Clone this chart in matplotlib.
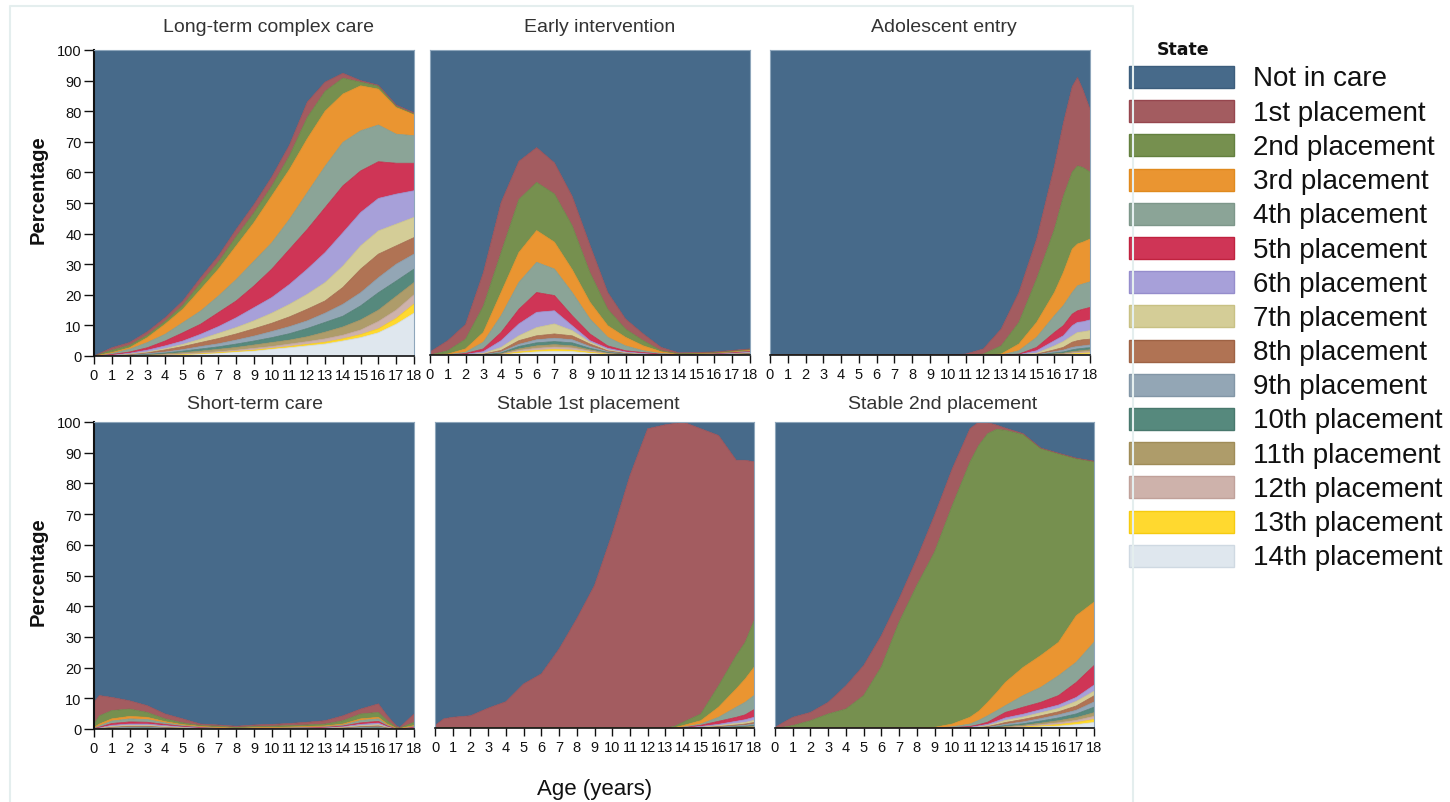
import numpy as np
import matplotlib
matplotlib.use("Agg")
import matplotlib.pyplot as plt
from matplotlib.patches import Rectangle

plt.rcParams['font.family'] = ['Liberation Sans', 'DejaVu Sans']

# ---------------------------------------------------------------- states
states = ['Not in care', '1st placement', '2nd placement', '3rd placement',
          '4th placement', '5th placement', '6th placement', '7th placement',
          '8th placement', '9th placement', '10th placement', '11th placement',
          '12th placement', '13th placement', '14th placement']
state_colors = ['#476a8a', '#a35c60', '#76904f', '#ea9531', '#8ba497',
                '#cf3556', '#a7a0d9', '#d4cd97', '#b07354', '#93a6b5',
                '#56897d', '#ae9c6a', '#ceb2ab', '#ffd92f', '#dfe7ee']
edge_colors = ['#3c5d7c', '#96464e', '#63803f', '#e08a1e', '#7d978a',
               '#c0223f', '#958dcc', '#c8c184', '#9e6244', '#8296a6',
               '#48786d', '#9f8c58', '#c0a19a', '#f5cb10', '#cfd9e2']

# Each panel: ages and, for every placement k (1st..14th), the cumulative
# percentage of children in placement k or a later one (the top edge of band k).

# ---- Long-term complex care
ages_ltc = [0, 1, 2, 3, 4, 5, 6, 7, 8, 9, 10, 11, 12, 13, 14, 15, 16, 17, 18]
ltc = [
    [0, 2.7, 4.4, 7.9, 12.5, 18, 25.6, 32.7, 41.4, 49.5, 58.5, 69, 83, 89.5, 92.4, 90, 88.5, 82, 79.5],
    [0, 1.9, 3.5, 6.8, 11.3, 16.6, 23.8, 30.7, 39, 46.8, 55.5, 65.5, 78, 86.5, 90.8, 89.5, 88.2, 81.6, 79.1],
    [0, 1.1, 2.7, 6, 10.4, 15.3, 21.8, 28.4, 36, 43.6, 52.3, 61, 71, 80, 85.6, 88.3, 87.2, 81.2, 79],
    [0, 0.9, 2.2, 4.4, 7.1, 10.9, 14.7, 19.6, 25, 31, 37, 44.7, 53.4, 62, 69.8, 73.6, 75.5, 72.5, 72],
    [0, 0.5, 1.3, 2.7, 4.9, 7.6, 10.4, 14.2, 18, 22.9, 28.4, 34.9, 41.4, 48.5, 55.6, 60.5, 63.5, 63, 63],
    [0, 0.3, 0.9, 1.9, 3.3, 4.9, 7.1, 9.6, 12.5, 15.8, 19.1, 23.4, 28.4, 33.8, 40.3, 46.9, 51.5, 52.9, 54],
    [0, 0.2, 0.65, 1.3, 2.4, 3.8, 5.5, 7.4, 9.3, 11.5, 14, 16.9, 20.2, 24, 29.4, 36, 40.9, 43.1, 45.3],
    [0, 0.15, 0.5, 1.1, 2, 3.1, 4.4, 5.7, 7.2, 8.9, 10.7, 12.8, 15.3, 18, 22.4, 28.4, 33.3, 36, 38.7],
    [0, 0.1, 0.4, 0.75, 1.3, 2.1, 3.1, 4, 5.2, 6.5, 8, 9.6, 11.5, 14, 16.9, 20.7, 25.6, 30, 33.3],
    [0, 0.05, 0.3, 0.55, 1, 1.6, 2.3, 3, 3.9, 4.9, 6, 7.3, 9, 11, 13, 16.4, 20.7, 24.5, 28.4],
    [0, 0.03, 0.2, 0.4, 0.7, 1.1, 1.6, 2.2, 2.8, 3.6, 4.4, 5.2, 6.3, 7.8, 9.5, 11.8, 15, 19.5, 24],
    [0, 0.02, 0.1, 0.25, 0.45, 0.7, 1, 1.4, 1.9, 2.5, 3.1, 3.9, 4.7, 5.6, 6.8, 8.5, 11.3, 15, 20],
    [0, 0, 0.05, 0.15, 0.3, 0.5, 0.8, 1.1, 1.5, 1.9, 2.5, 3.1, 3.8, 4.5, 5.6, 7, 8.9, 12.3, 17],
    [0, 0, 0, 0.1, 0.2, 0.4, 0.6, 0.9, 1.3, 1.6, 2.2, 2.7, 3.3, 3.9, 4.9, 6, 7.6, 10.4, 14],
]

# ---- Early intervention
ages_ei = [0, 1, 2, 3, 4, 5, 6, 7, 8, 9, 10, 11, 12, 13, 14, 15, 16, 17, 18]
ei = [
    [1, 4.7, 10, 27, 50, 63.5, 68, 63, 52, 36, 20.5, 11.8, 6.9, 2.5, 0.7, 0.8, 1.0, 1.5, 2.0],
    [0, 1.4, 5.2, 16, 33.6, 51, 56.6, 52.8, 42.4, 27, 15, 8.5, 4.7, 1.4, 0.4, 0.6, 0.8, 1.3, 1.8],
    [0, 0.3, 2, 7.4, 20.5, 33.6, 40.8, 37, 28, 17.3, 9.6, 5.8, 3, 1.1, 0.3, 0.5, 0.7, 1.1, 1.6],
    [0, 0.1, 0.9, 4.2, 12.9, 23.8, 30.4, 28.2, 20.5, 11.8, 5.8, 3, 1.4, 0.5, 0.2, 0.4, 0.6, 1, 1.4],
    [0, 0, 0.5, 2, 7.4, 15, 20.5, 19.5, 12.9, 6.9, 3, 1.4, 0.8, 0.3, 0.1, 0.3, 0.5, 0.8, 1.2],
    [0, 0, 0.2, 1.1, 4.7, 10.2, 14, 14.5, 9.6, 4.7, 2.2, 1, 0.5, 0.2, 0.05, 0.2, 0.4, 0.6, 1],
    [0, 0, 0.1, 0.5, 2.5, 6.3, 9, 10.2, 8, 4.2, 1.7, 0.8, 0.3, 0.1, 0, 0.15, 0.3, 0.5, 0.8],
    [0, 0, 0.05, 0.3, 1.5, 4.7, 6.3, 6.9, 6.3, 3.6, 1.4, 0.6, 0.2, 0.05, 0, 0.1, 0.2, 0.4, 0.6],
    [0, 0, 0, 0.2, 1, 3.5, 5, 5.5, 5, 2.8, 1.1, 0.5, 0.15, 0, 0, 0.08, 0.15, 0.3, 0.5],
    [0, 0, 0, 0.1, 0.7, 2.8, 4, 4.4, 4, 2.2, 0.9, 0.4, 0.1, 0, 0, 0.06, 0.1, 0.2, 0.4],
    [0, 0, 0, 0.05, 0.5, 2, 3, 3.4, 3, 1.7, 0.7, 0.3, 0.08, 0, 0, 0.04, 0.08, 0.15, 0.3],
    [0, 0, 0, 0, 0.3, 1.5, 2.2, 2.6, 2.3, 1.3, 0.5, 0.2, 0.05, 0, 0, 0.02, 0.05, 0.1, 0.2],
    [0, 0, 0, 0, 0.2, 1.0, 1.5, 1.8, 1.6, 0.9, 0.35, 0.12, 0.03, 0, 0, 0.01, 0.03, 0.06, 0.12],
    [0, 0, 0, 0, 0.1, 0.6, 1.0, 1.2, 1.1, 0.6, 0.2, 0.08, 0.02, 0, 0, 0, 0.01, 0.03, 0.06],
]

# ---- Adolescent entry
ages_ae = [0, 10, 11, 12, 13, 14, 15, 16, 16.5, 17, 17.3, 17.6, 18]
ae = [
    [0, 0, 0.3, 2, 8.5, 20.5, 38, 62, 76, 88, 91, 87, 80.6],
    [0, 0, 0, 0.3, 3, 10.7, 25, 41.3, 52, 60, 62, 61.5, 60],
    [0, 0, 0, 0, 0.3, 3.6, 10.7, 20.5, 27, 34.7, 36.4, 37, 38],
    [0, 0, 0, 0, 0, 1.4, 5.8, 12.9, 16.2, 20.5, 22.7, 23.3, 24],
    [0, 0, 0, 0, 0, 0.3, 2.5, 7.4, 9.6, 13.4, 14.5, 15, 15.6],
    [0, 0, 0, 0, 0, 0.1, 1.4, 4.7, 6.3, 9.6, 10.7, 10.9, 11.5],
    [0, 0, 0, 0, 0, 0, 0.6, 3, 4.4, 6.3, 7.4, 7.6, 8],
    [0, 0, 0, 0, 0, 0, 0.3, 1.7, 2.5, 4.2, 4.7, 5, 5.2],
    [0, 0, 0, 0, 0, 0, 0.1, 1.1, 1.6, 2.5, 2.8, 3, 3.3],
    [0, 0, 0, 0, 0, 0, 0.05, 0.7, 1, 1.7, 2, 2.2, 2.4],
    [0, 0, 0, 0, 0, 0, 0, 0.4, 0.6, 1.1, 1.3, 1.5, 1.7],
    [0, 0, 0, 0, 0, 0, 0, 0.2, 0.35, 0.7, 0.85, 1.0, 1.1],
    [0, 0, 0, 0, 0, 0, 0, 0.1, 0.2, 0.4, 0.5, 0.6, 0.7],
    [0, 0, 0, 0, 0, 0, 0, 0.05, 0.1, 0.2, 0.25, 0.3, 0.35],
]

# ---- Short-term care
ages_st = [0, 0.3, 1, 2, 3, 4, 5, 6, 7, 8, 9, 10, 11, 12, 13, 14, 15, 16, 16.5, 17, 17.2, 18]
st = [
    [8.7, 10.9, 10.3, 9.2, 7.6, 4.9, 3.3, 1.6, 1.3, 0.9, 1.3, 1.5, 1.8, 2.2, 2.7, 4.3, 6.5, 8.2, 4.3, 1.1, 0.5, 4.9],
    [1.6, 4.3, 6.0, 6.5, 5.4, 3.3, 2.0, 1.1, 0.9, 0.5, 0.8, 0.9, 1.1, 1.3, 1.6, 2.7, 4.9, 5.4, 2.7, 0.5, 0.3, 2.2],
    [0.5, 1.6, 3.3, 4.1, 3.8, 2.4, 1.4, 0.9, 0.5, 0.3, 0.4, 0.5, 0.65, 0.8, 1.0, 1.6, 3.3, 3.8, 1.6, 0.3, 0.2, 1.1],
    [0.3, 1.0, 2.6, 3.3, 3.1, 2.0, 1.2, 0.7, 0.4, 0.25, 0.3, 0.4, 0.5, 0.6, 0.8, 1.3, 2.8, 3.3, 1.3, 0.25, 0.15, 0.9],
    [0.2, 0.6, 1.8, 2.3, 2.2, 1.5, 0.9, 0.5, 0.3, 0.2, 0.2, 0.3, 0.35, 0.4, 0.6, 1.0, 2.0, 2.5, 1.0, 0.2, 0.1, 0.6],
    [0.1, 0.4, 1.2, 1.6, 1.6, 1.1, 0.7, 0.4, 0.2, 0.15, 0.15, 0.2, 0.25, 0.3, 0.45, 0.8, 1.5, 1.9, 0.8, 0.15, 0.08, 0.45],
    [0.05, 0.3, 0.9, 1.2, 1.2, 0.8, 0.5, 0.3, 0.15, 0.1, 0.1, 0.15, 0.2, 0.22, 0.35, 0.6, 1.1, 1.4, 0.6, 0.1, 0.05, 0.3],
    [0.03, 0.2, 0.6, 0.9, 0.9, 0.6, 0.4, 0.2, 0.1, 0.07, 0.07, 0.1, 0.15, 0.17, 0.25, 0.45, 0.8, 1.0, 0.45, 0.07, 0.03, 0.2],
    [0, 0.12, 0.4, 0.6, 0.65, 0.45, 0.3, 0.15, 0.07, 0.05, 0.05, 0.07, 0.1, 0.12, 0.18, 0.32, 0.55, 0.7, 0.3, 0.05, 0.02, 0.14],
    [0, 0.08, 0.25, 0.4, 0.45, 0.3, 0.2, 0.1, 0.05, 0.03, 0.03, 0.05, 0.07, 0.08, 0.12, 0.22, 0.38, 0.48, 0.2, 0.03, 0.01, 0.1],
    [0, 0.05, 0.15, 0.25, 0.3, 0.2, 0.13, 0.07, 0.03, 0.02, 0.02, 0.03, 0.04, 0.05, 0.08, 0.14, 0.25, 0.3, 0.12, 0.02, 0, 0.06],
    [0, 0.03, 0.1, 0.15, 0.18, 0.12, 0.08, 0.04, 0.02, 0.01, 0.01, 0.02, 0.02, 0.03, 0.05, 0.08, 0.15, 0.18, 0.07, 0.01, 0, 0.04],
    [0, 0.02, 0.05, 0.08, 0.1, 0.07, 0.05, 0.02, 0.01, 0, 0, 0.01, 0.01, 0.02, 0.03, 0.05, 0.08, 0.1, 0.04, 0, 0, 0.02],
    [0, 0.01, 0.03, 0.04, 0.05, 0.04, 0.03, 0.01, 0, 0, 0, 0, 0, 0.01, 0.01, 0.02, 0.04, 0.05, 0.02, 0, 0, 0.01],
]

# ---- Stable 1st placement
ages_s1 = [0, 0.5, 1, 2, 3, 4, 5, 6, 7, 8, 9, 10, 11, 12, 13, 13.5, 14, 15, 16, 17, 17.5, 18]
s1 = [
    [0.8, 3, 3.5, 4, 6.5, 8.6, 14.4, 17.7, 25.8, 35.7, 46.6, 63.5, 82.5, 97.8, 99.1, 99.5, 100, 97.8, 95.6, 87.5, 87.5, 87],
    [0, 0, 0, 0, 0, 0, 0, 0, 0, 0, 0, 0, 0, 0, 0, 0.5, 1.9, 4.6, 13.8, 23.7, 28, 35],
    [0, 0, 0, 0, 0, 0, 0, 0, 0, 0, 0, 0, 0, 0, 0, 0.1, 0.8, 2.4, 6.8, 12.8, 16, 19.8],
    [0, 0, 0, 0, 0, 0, 0, 0, 0, 0, 0, 0, 0, 0, 0, 0.05, 0.3, 1.3, 3.5, 6.8, 8.4, 10.6],
    [0, 0, 0, 0, 0, 0, 0, 0, 0, 0, 0, 0, 0, 0, 0, 0, 0.2, 0.9, 2.2, 3.5, 4.3, 6],
    [0, 0, 0, 0, 0, 0, 0, 0, 0, 0, 0, 0, 0, 0, 0, 0, 0.1, 0.5, 1.2, 2.2, 2.7, 3.5],
    [0, 0, 0, 0, 0, 0, 0, 0, 0, 0, 0, 0, 0, 0, 0, 0, 0.05, 0.3, 0.8, 1.5, 1.8, 2.5],
    [0, 0, 0, 0, 0, 0, 0, 0, 0, 0, 0, 0, 0, 0, 0, 0, 0, 0.2, 0.5, 1, 1.3, 1.8],
    [0, 0, 0, 0, 0, 0, 0, 0, 0, 0, 0, 0, 0, 0, 0, 0, 0, 0.1, 0.35, 0.7, 0.9, 1.3],
    [0, 0, 0, 0, 0, 0, 0, 0, 0, 0, 0, 0, 0, 0, 0, 0, 0, 0.05, 0.25, 0.5, 0.6, 0.9],
    [0, 0, 0, 0, 0, 0, 0, 0, 0, 0, 0, 0, 0, 0, 0, 0, 0, 0, 0.15, 0.3, 0.4, 0.6],
    [0, 0, 0, 0, 0, 0, 0, 0, 0, 0, 0, 0, 0, 0, 0, 0, 0, 0, 0.08, 0.2, 0.25, 0.4],
    [0, 0, 0, 0, 0, 0, 0, 0, 0, 0, 0, 0, 0, 0, 0, 0, 0, 0, 0.04, 0.1, 0.15, 0.3],
    [0, 0, 0, 0, 0, 0, 0, 0, 0, 0, 0, 0, 0, 0, 0, 0, 0, 0, 0, 0.03, 0.05, 0.1],
]

# ---- Stable 2nd placement
ages_s2 = [0, 0.5, 1, 2, 3, 4, 5, 6, 7, 8, 9, 10, 11, 11.5, 12, 12.5, 13, 14, 15, 16, 17, 18]
s2 = [
    [0.2, 1.9, 3.5, 5.1, 8.4, 13.8, 20.4, 30.2, 42.2, 55.3, 69.5, 84.7, 97.8, 100, 99.8, 99, 98, 96.2, 91.5, 89.8, 88.2, 87.2],
    [0, 0.3, 0.8, 2.4, 4.6, 6.2, 10.6, 20, 34.6, 46.6, 57.5, 72.7, 86.9, 92.4, 96.2, 97.6, 97.3, 95.9, 91.3, 89.6, 88, 87],
    [0, 0, 0, 0, 0, 0, 0, 0, 0, 0, 0.2, 1.3, 3.5, 5.5, 8.4, 11.5, 14.9, 19.8, 23.7, 28, 36.7, 41.1],
    [0, 0, 0, 0, 0, 0, 0, 0, 0, 0, 0, 0.4, 1.3, 2.5, 4, 5.6, 7.3, 10.6, 13.3, 17.1, 21.5, 28],
    [0, 0, 0, 0, 0, 0, 0, 0, 0, 0, 0, 0.1, 0.5, 1.1, 1.9, 3.5, 5.1, 6.8, 8.4, 10.6, 14.9, 20.4],
    [0, 0, 0, 0, 0, 0, 0, 0, 0, 0, 0, 0, 0.3, 0.7, 1.2, 2.2, 3.3, 4.5, 6, 7.5, 10, 14],
    [0, 0, 0, 0, 0, 0, 0, 0, 0, 0, 0, 0, 0.1, 0.4, 0.8, 1.6, 2.5, 3.6, 5, 6.4, 8.7, 12],
    [0, 0, 0, 0, 0, 0, 0, 0, 0, 0, 0, 0, 0.05, 0.2, 0.5, 1.1, 1.8, 2.8, 4, 5.3, 7.2, 10.5],
    [0, 0, 0, 0, 0, 0, 0, 0, 0, 0, 0, 0, 0, 0.1, 0.3, 0.7, 1.2, 2, 3.1, 4.3, 5.8, 8.5],
    [0, 0, 0, 0, 0, 0, 0, 0, 0, 0, 0, 0, 0, 0.05, 0.15, 0.4, 0.8, 1.4, 2.3, 3.3, 4.6, 6.8],
    [0, 0, 0, 0, 0, 0, 0, 0, 0, 0, 0, 0, 0, 0, 0.08, 0.25, 0.5, 0.9, 1.6, 2.4, 3.4, 5],
    [0, 0, 0, 0, 0, 0, 0, 0, 0, 0, 0, 0, 0, 0, 0.04, 0.12, 0.3, 0.6, 1.1, 1.7, 2.5, 3.8],
    [0, 0, 0, 0, 0, 0, 0, 0, 0, 0, 0, 0, 0, 0, 0, 0.05, 0.15, 0.4, 0.7, 1.1, 1.8, 2.8],
    [0, 0, 0, 0, 0, 0, 0, 0, 0, 0, 0, 0, 0, 0, 0, 0, 0.05, 0.2, 0.4, 0.6, 1.1, 1.8],
]

panel_titles = ['Long-term complex care', 'Early intervention', 'Adolescent entry',
                'Short-term care', 'Stable 1st placement', 'Stable 2nd placement']
x_ticks = list(range(0, 19))
y_ticks = list(range(0, 101, 10))

# ---------------------------------------------------------------- figure
W, H = 1450, 803
fig = plt.figure(figsize=(W / 100, H / 100), dpi=100)
fig.patch.set_facecolor('white')

# overlay in pixel coordinates for frame, labels, legend
ov = fig.add_axes([0, 0, 1, 1], zorder=0)
ov.set_xlim(0, W)
ov.set_ylim(H, 0)
ov.set_axis_off()
ov.plot([10, 10, 1133, 1133], [H + 5, 7, 7, H + 5], color='#e4eeee', lw=1.5)

# panel boxes in pixels: (left, top, right, bottom)
boxes = [(94, 51, 414, 357), (430, 51, 750, 356), (770, 51, 1090, 356),
         (94, 423, 414, 730), (435, 423, 754, 729), (775, 423, 1094, 729)]
title_pos = [(269, 28), (600, 28), (944, 28), (255, 405), (588, 405), (943, 405)]
panel_data = [(ages_ltc, ltc), (ages_ei, ei), (ages_ae, ae),
              (ages_st, st), (ages_s1, s1), (ages_s2, s2)]

for i, ((l, t, r, b), (ages, cum)) in enumerate(zip(boxes, panel_data)):
    ax = fig.add_axes([l / W, 1 - b / H, (r - l) / W, (b - t) / H], zorder=2)
    a = np.asarray(ages, dtype=float)
    c = np.asarray(cum, dtype=float)
    n = c.shape[0]
    for k in range(n - 1, -1, -1):
        lower = c[k + 1] if k + 1 < n else np.zeros_like(a)
        ax.fill_between(a, lower, c[k], facecolor=state_colors[k + 1],
                        edgecolor='none', lw=0)
        ax.plot(a, c[k], color=edge_colors[k + 1], lw=0.5)
    ax.fill_between(a, c[0], 100, facecolor=state_colors[0], edgecolor='none', lw=0)
    ax.set_xlim(0, 18)
    ax.set_ylim(0, 100)
    ax.set_xticks(x_ticks)
    ax.set_xticklabels([str(v) for v in x_ticks])
    ax.tick_params(axis='x', direction='out', length=6, width=1.0, pad=3,
                   labelsize=10.5, colors='#111111')
    for s in ('top', 'right'):
        ax.spines[s].set_color('#8ea6bb')
        ax.spines[s].set_linewidth(0.8)
    ax.spines['bottom'].set_color('#111111')
    ax.spines['bottom'].set_linewidth(1.2)
    if i in (0, 3):
        ax.set_yticks(y_ticks)
        ax.set_yticklabels([str(v) for v in y_ticks])
        ax.tick_params(axis='y', direction='out', length=7, width=1.0, pad=2,
                       labelsize=10.5, colors='#111111')
        ax.spines['left'].set_color('#111111')
        ax.spines['left'].set_linewidth(1.5)
    else:
        ax.set_yticks([])
        ax.spines['left'].set_color('#8ea6bb')
        ax.spines['left'].set_linewidth(0.8)
    tx, ty = title_pos[i]
    ov.text(tx, ty, panel_titles[i], ha='center', va='center', fontsize=14,
            color='#333333')

ov.text(38, 190, 'Percentage', rotation=90, ha='center', va='center',
        fontsize=14.5, fontweight='bold', color='#111111')
ov.text(38, 572, 'Percentage', rotation=90, ha='center', va='center',
        fontsize=14.5, fontweight='bold', color='#111111')
ov.text(595, 790, 'Age (years)', ha='center', va='center', fontsize=16,
        color='#111111')

# ---------------------------------------------------------------- legend
ov.text(1183, 50, 'State', ha='center', va='center', fontsize=12.5,
        fontweight='bold', family=['DejaVu Sans'], color='#111111')
for j, (name, col) in enumerate(zip(states, state_colors)):
    y0 = 67 + j * 34.2
    ov.add_patch(Rectangle((1129, y0), 105, 22, facecolor=col,
                           edgecolor=edge_colors[j], lw=1.0))
    ov.text(1253, y0 + 12.5, name, ha='left', va='center', fontsize=20,
            color='#111111')

fig.savefig('out.png', dpi=100)
